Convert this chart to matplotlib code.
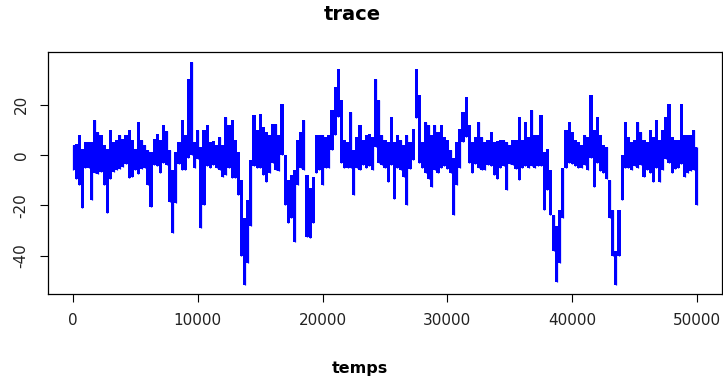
import numpy as np
import matplotlib
matplotlib.use("Agg")
import matplotlib.pyplot as plt

# Sample times (one envelope column every 250 steps)
temps = np.arange(0, 50001, 250)

# Upper envelope of the trace in each column
trace_haut = [
    4, 4.5, 8, 2.5, 5, 5, 5, 13.8, 9, 7.8,
    3.8, 2.5, 9.8, 5, 5.8, 7.8, 6.5, 7.8, 9.8, 5.8,
    2.5, 13.1, 5.8, 4, 2, 1, 6.5, 8.5, 6, 11.8,
    9.5, 2, -6, 1, 5, 13.8, 7.8, 30, 37, 5,
    9.8, 3, 10, 11.8, 5, 5.5, 4, 7, 4, 15,
    12, 14, 6, 1, -10, -25, -18, -2, 15.7, 10,
    16.4, 11, 9, 8, 12.5, 12.5, 8, 20.4, 0, -10,
    -8, -6, 5.8, 9, 13.8, -8, -13, -8.7, 8, 8,
    8, 7, 8, 17.7, 27, 34, 22, 6, 5, 17,
    2, 7, 11.8, 6, 8, 8.5, 7, 30, 22, 8,
    6, 5, 15, 5, 8, 6, 4, 8, 5, 10.5,
    34.3, 24, 5, 13, 12, 8, 11.8, 9, 11.8, 7,
    6, 2, -1, 5, 10.5, 17, 23, 12, 5, 7,
    13, 7, 5, 6, 9, 5, 5.5, 6, 6, 5,
    4, 6, 6, 15, 6, 13, 7, 17.7, 8, 8,
    15.7, 1, 2.5, -6, -24, -28, -22, -5, 10, 13,
    9, 6, 5, 4, 8, 7, 23.7, 10, 15, 8,
    4, 3, -10, -22, -38, -22, 0, 13, 7, 5,
    6, 13, 9, 6, 5, 9.8, 7, 13.8, 6, 9.8,
    15, 20.4, 7, 6, 6, 20.4, 8, 8, 8, 9.8,
    3,
]

# Lower envelope of the trace in each column
trace_bas = [
    -6, -9.4, -12, -21, -5, -5, -18, -7, -7.4, -6.7,
    -12, -23, -9.4, -6.7, -6, -5.4, -4.8, -3.4, -9, -8.7,
    -6, -7.4, -5.4, -5, -12, -20.5, -4, -4.5, -7, -3,
    -4, -18.7, -31, -19, -3.5, -6, -6, -1, 0, -5,
    -1.5, -29, -20, -4.5, -5, -4, -5, -6, -8.7, -8,
    -5, -9, -9, -16, -40, -51.6, -43, -28, -4.5, -5,
    -5, -8, -10.7, -7, -3, -6, -6.5, 0, -20, -27,
    -25, -34.5, -12, -5, -6, -32.5, -33, -27, -7, -6,
    -12, -5, -5, 2, 8, 15, -3, -5, -5, -5,
    -16, -5, -6, -4, -5, -4.5, -6, 3, -3, -4,
    -5, -10.7, -4, -17.3, -5, -6, -8.7, -20, -5.5, -2,
    14.5, -3, -5, -7, -9.4, -12.7, -6, -7, -5, -4.5,
    -5.5, -7, -24, -12, -5, 5, 7, -3, -7, -3.5,
    -5, -6, -6, -4, -4.5, -8, -9.4, -5, -4.5, -14,
    -3.5, -4, -5.5, -10, -5, -4.5, -5, -4.5, -5, -4.5,
    -4.5, -22, -14, -24, -38, -50.3, -43, -25, -5, -3,
    -3.5, -4.5, -5, -5, -4, -6, -1, -12.7, -3, -6.5,
    -7, -9.4, -25, -40, -51.7, -40, -18, -5, -5, -6,
    -4.5, -5, -4, -8.7, -6, -7, -10.7, -5, -10.7, -6,
    -1.5, -3, -7, -5.5, -5, -3.5, -8.7, -7, -6.5, -6,
    -20,
]

x_ticks = [0, 10000, 20000, 30000, 40000, 50000]
y_ticks = [-40, -20, 0, 20]

W, H = 723, 383
BLUE = "#0000FF"
fig = plt.figure(figsize=(W / 100, H / 100), dpi=100)
ax = fig.add_axes([48 / W, (H - 294) / H, (722 - 48) / W, (294 - 52) / H])

t = np.asarray(temps, dtype=float)
lo = np.asarray(trace_bas, dtype=float)
hi = np.asarray(trace_haut, dtype=float)

# Dense trace drawn as vertical strokes spanning each column's range
ax.fill_between(t, lo, hi, step="mid", color=BLUE, lw=0)
ax.vlines(t, lo, hi, color=BLUE, lw=0.9)

ax.set_xlim(-2000, 52000)
ax.set_ylim(-55.2, 40.9)

ax.set_xticks(x_ticks)
ax.set_xticklabels([str(v) for v in x_ticks])
ax.set_yticks(y_ticks)
ax.set_yticklabels([str(v) for v in y_ticks], rotation=90, va="center")

for s in ax.spines.values():
    s.set_linewidth(0.9)
    s.set_color("black")

ax.tick_params(axis="both", direction="out", length=5.5, width=0.8,
               colors="black", labelsize=11)
ax.tick_params(axis="x", pad=8.5)
ax.tick_params(axis="y", pad=8.5)
for lab in ax.get_xticklabels() + ax.get_yticklabels():
    lab.set_fontfamily("DejaVu Sans")
    lab.set_color("#222222")

fig.text(352 / W, 1 - 14 / H, "trace", ha="center", va="center",
         fontsize=14, fontweight="bold", family="DejaVu Sans")
fig.text(360 / W, 1 - 368 / H, "temps", ha="center", va="center",
         fontsize=11.5, fontweight="bold", family="DejaVu Sans")

fig.savefig("out.png", dpi=100)
